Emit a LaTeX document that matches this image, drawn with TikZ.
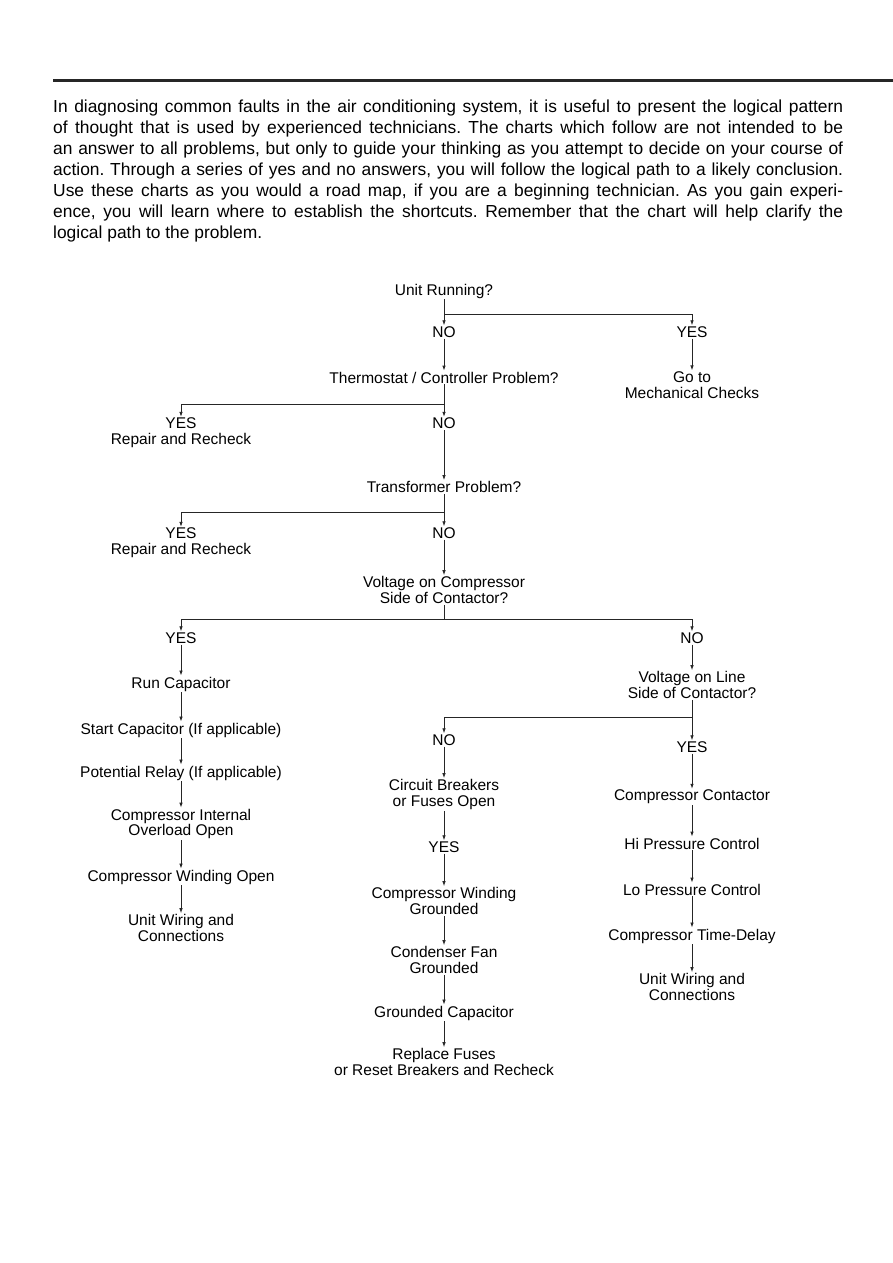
\documentclass[tikz,border=0pt]{standalone}
\usepackage{fontspec}
\setmainfont{Liberation Sans}
\usetikzlibrary{arrows.meta}

\begin{document}
\begin{tikzpicture}[x=1pt,y=-1pt]
        \tikzset{Box/.style={align=center, inner sep=1pt, font=\fontsize{15.5}{15.8}\selectfont},
        Arr/.style={-{Latex[length=5pt,width=3.5pt]}, line width=0.8pt, color=black!85}}
        \useasboundingbox (0,0) rectangle (893,1263);
        \draw[line width=3pt, black!85] (53,80) -- (893,80);
        \node[anchor=north west, inner sep=0pt, text width=790pt, align=justify,
              font=\fontsize{17.4}{21}\selectfont] (intro) at (53,99.5)
        {\frenchspacing\spaceskip=0.278em plus 0.4em minus 0.12em
        In diagnosing common faults in the air conditioning system, it is useful to present the logical pattern\linebreak
        of thought that is used by experienced technicians. The charts which follow are not intended to be\linebreak
        an answer to all problems, but only to guide your thinking as you attempt to decide on your course of\linebreak
        action. Through a series of yes and no answers, you will follow the logical path to a likely conclusion.\linebreak
        Use these charts as you would a road map, if you are a beginning technician. As you gain experi-\linebreak
        ence, you will learn where to establish the shortcuts. Remember that the chart will help clarify the\linebreak
        logical path to the problem.};
        \node[Box] (run) at (444,291) {Unit Running?};
        \node[Box] (no1) at (444,332) {NO};
        \node[Box] (yes1) at (692,332) {YES};
        \node[Box] (thermo) at (444,377.5) {Thermostat / Controller Problem?};
        \node[Box] (mech) at (692,385) {Go to\\Mechanical Checks};
        \node[Box] (yes2) at (181,433) {YES\\Repair and Recheck};
        \node[Box] (no2) at (444,423.5) {NO};
        \node[Box] (trans) at (444,487) {Transformer Problem?};
        \node[Box] (yes3) at (181,543) {YES\\Repair and Recheck};
        \node[Box] (no3) at (444,533) {NO};
        \node[Box] (vcomp) at (444,590) {Voltage on Compressor\\Side of Contactor?};
        \node[Box] (yes4) at (181,638) {YES};
        \node[Box] (no4) at (692,638) {NO};
        \node[Box] (runcap) at (181,684) {Run Capacitor};
        \node[Box] (startcap) at (181,730) {Start Capacitor (If applicable)};
        \node[Box] (potrelay) at (181,773) {Potential Relay (If applicable)};
        \node[Box] (overload) at (181,824) {Compressor Internal\\Overload Open};
        \node[Box] (windopen) at (181,877) {Compressor Winding Open};
        \node[Box] (wiringA) at (181,928) {Unit Wiring and\\Connections};
        \node[Box] (vline) at (692,685) {Voltage on Line\\Side of Contactor?};
        \node[Box] (no5) at (444,740) {NO};
        \node[Box] (yes5) at (692,747) {YES};
        \node[Box] (breakers) at (444,794.5) {Circuit Breakers\\or Fuses Open};
        \node[Box] (yes6) at (444,847) {YES};
        \node[Box] (windgnd) at (444,901) {Compressor Winding\\Grounded};
        \node[Box] (fangnd) at (444,960) {Condenser Fan\\Grounded};
        \node[Box] (capgnd) at (444,1013) {Grounded Capacitor};
        \node[Box] (replace) at (444,1062) {Replace Fuses\\or Reset Breakers and Recheck};
        \node[Box] (contactor) at (692,797) {Compressor Contactor};
        \node[Box] (hipress) at (692,843.5) {Hi Pressure Control};
        \node[Box] (lopress) at (692,889.5) {Lo Pressure Control};
        \node[Box] (delay) at (692,936) {Compressor Time-Delay};
        \node[Box] (wiringB) at (692,987) {Unit Wiring and\\Connections};
        \coordinate (j1) at (444,314);
        \coordinate (j2) at (444,404);
        \coordinate (j3) at (444,512);
        \coordinate (j4) at (444,619);
        \coordinate (j5) at (692,717);
        \foreach \a/\b in {run/no1, yes1/mech, no1/thermo, thermo/no2, no2/trans, trans/no3, no3/vcomp,
            yes4/runcap, runcap/startcap, startcap/potrelay, potrelay/overload, overload/windopen, windopen/wiringA,
            no4/vline, vline/yes5, no5/breakers, breakers/yes6, yes6/windgnd, windgnd/fangnd, fangnd/capgnd, capgnd/replace,
            yes5/contactor, contactor/hipress, hipress/lopress, lopress/delay, delay/wiringB}
            \draw[Arr] (\a) -- (\b);
        \draw[Arr] (j1) -| (yes1);
        \draw[Arr] (j2) -| (yes2);
        \draw[Arr] (j3) -| (yes3);
        \draw[Arr, -] (vcomp) -- (j4);
        \draw[Arr] (j4) -| (yes4);
        \draw[Arr] (j4) -| (no4);
        \draw[Arr] (j5) -| (no5);
\end{tikzpicture}
\end{document}
